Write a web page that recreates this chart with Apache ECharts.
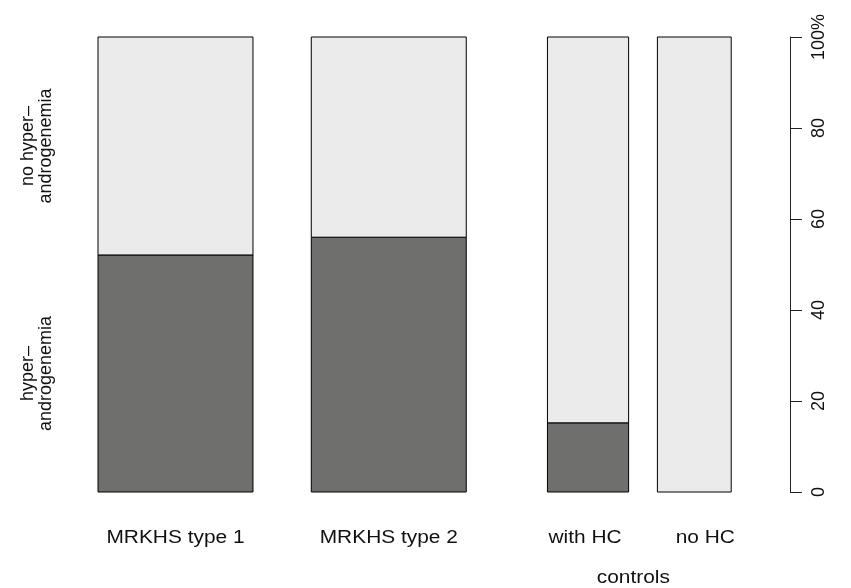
<!DOCTYPE html>
<html>
<head>
<meta charset="utf-8">
<script src="https://cdn.jsdelivr.net/npm/echarts@6/dist/echarts.min.js"></script>
<style>
  html, body { margin: 0; padding: 0; background: #fff; }
  #chart { width: 851px; height: 588px; }
</style>
</head>
<body>
<div id="chart"></div>
<script>
// groups along the bottom, widths ~ group sizes
const groups = ['MRKHS type 1', 'MRKHS type 2', 'with HC', 'no HC'];
const groupSizes = [21, 21, 11, 10];
const hyperPct = [52.1, 56.0, 15.2, 0];
const rowLabels = ['hyper–\nandrogenemia', 'no hyper–\nandrogenemia'];
const yTicks = [0, 20, 40, 60, 80, 100];
const superGroup = 'controls';

// spacing before each bar (same units as group sizes)
const gaps = [0, 7.9, 11, 3.9];
const labelNudge = [0, 0, -3, 11];   // px, label position tweaks
const colors = ['#6f6f6e', '#ebebeb'];
const FONT = 'Liberation Sans, Arial, sans-serif';

let starts = [];
let pos = 0;
groups.forEach((g, i) => {
    pos += gaps[i];
    starts.push(pos);
    pos += groupSizes[i];
});
const xMax = 692 / 7.38;

let rects = [];
groups.forEach((g, i) => {
    let x0 = starts[i], x1 = starts[i] + groupSizes[i];
    rects.push([x0, x1, 0, hyperPct[i], 0]);
    rects.push([x0, x1, hyperPct[i], 100, 1]);
});

let myChart = echarts.init(document.getElementById('chart'));

myChart.setOption({
    animation: false,
    grid: { left: 98, top: 37, width: 692, bottom: 96 },
    xAxis: { type: 'value', min: 0, max: xMax, show: false },
    yAxis: {
        type: 'value',
        position: 'right',
        min: yTicks[0], max: yTicks[yTicks.length - 1], interval: 20,
        splitLine: { show: false },
        axisLine: { show: true, onZero: false, lineStyle: { color: '#222', width: 1 } },
        axisTick: { show: true, length: 12, lineStyle: { color: '#222' } },
        axisLabel: {
            rotate: 90, margin: 20, color: '#111', fontSize: 18, fontFamily: FONT,
            formatter: v => v === 100 ? '100%' : String(v)
        }
    },
    series: [{
        type: 'custom',
        data: rects,
        renderItem: (params, api) => {
            let lo = api.value(2), hi = api.value(3);
            if (hi - lo <= 0) return null;
            let p0 = api.coord([api.value(0), hi]);
            let p1 = api.coord([api.value(1), lo]);
            return {
                type: 'rect',
                shape: { x: p0[0], y: p0[1], width: p1[0] - p0[0], height: p1[1] - p0[1] },
                style: { fill: colors[api.value(4)], stroke: '#000', lineWidth: 1 }
            };
        }
    }]
});

// text labels placed through the axes
let texts = [];
groups.forEach((g, i) => {
    let c = myChart.convertToPixel({ gridIndex: 0 }, [starts[i] + groupSizes[i] / 2, 0]);
    texts.push({
        type: 'text', x: c[0] + labelNudge[i], y: 538, scaleX: 1.16,
        style: { text: g, fill: '#111', fontSize: 18, fontFamily: FONT, align: 'center', verticalAlign: 'middle' }
    });
});
let cx = myChart.convertToPixel({ gridIndex: 0 }, [(starts[2] + starts[3] + groupSizes[3]) / 2, 0]);
texts.push({
    type: 'text', x: cx[0] - 6, y: 578, scaleX: 1.16,
    style: { text: superGroup, fill: '#111', fontSize: 18, fontFamily: FONT, align: 'center', verticalAlign: 'middle' }
});
let mids = [hyperPct[0] / 2, (hyperPct[0] + 100) / 2];
rowLabels.forEach((t, k) => {
    let c = myChart.convertToPixel({ gridIndex: 0 }, [0, mids[k]]);
    texts.push({
        type: 'text', x: 37, y: c[1], rotation: Math.PI / 2,
        style: { text: t, fill: '#111', fontSize: 18, lineHeight: 18, fontFamily: FONT, align: 'center', verticalAlign: 'middle' }
    });
});
myChart.setOption({ graphic: texts });
</script>
</body>
</html>
